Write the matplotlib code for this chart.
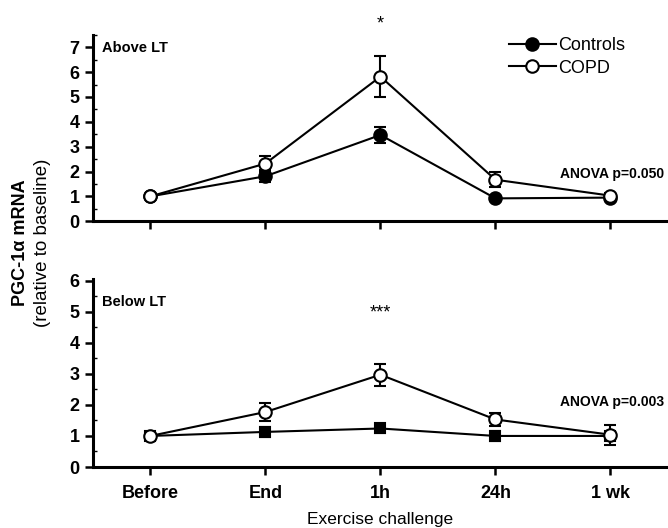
import matplotlib
matplotlib.use("Agg")
import matplotlib.pyplot as plt
from matplotlib.lines import Line2D
from matplotlib.ticker import MultipleLocator

plt.rcParams['font.family'] = ['Liberation Sans', 'DejaVu Sans']

timepoints = ["Before", "End", "1h", "24h", "1 wk"]
x = list(range(len(timepoints)))

# above lactate threshold
above_controls = [1.0, 1.81, 3.47, 0.92, 0.95]
above_controls_err = [0.0, 0.25, 0.33, 0.1, 0.1]
above_copd = [1.0, 2.32, 5.82, 1.67, 1.03]
above_copd_err = [0.0, 0.32, 0.83, 0.3, 0.1]

# below lactate threshold
below_controls = [1.0, 1.13, 1.24, 1.0, 1.0]
below_controls_err = [0.0, 0.15, 0.15, 0.15, 0.05]
below_copd = [1.0, 1.77, 2.97, 1.53, 1.04]
below_copd_err = [0.0, 0.29, 0.35, 0.2, 0.32]

fig = plt.figure(figsize=(6.68, 5.28), dpi=100)
ax1 = fig.add_axes([0.139, 0.581, 0.861, 0.353])
ax2 = fig.add_axes([0.139, 0.1155, 0.861, 0.356])


def draw_panel(ax, ctrl, ctrl_err, copd, copd_err, ctrl_marker, ctrl_ms, ymax):
    ax.errorbar(x[1:], ctrl[1:], yerr=ctrl_err[1:], fmt="none", ecolor="black",
                elinewidth=1.5, capsize=4, capthick=1.5, zorder=2)
    ax.plot(x, ctrl, color="black", lw=1.5, marker=ctrl_marker, ms=ctrl_ms,
            mfc="black", mec="black", mew=1.5, zorder=3)
    ax.errorbar(x[1:], copd[1:], yerr=copd_err[1:], fmt="none", ecolor="black",
                elinewidth=1.5, capsize=4, capthick=1.5, zorder=2)
    ax.plot(x, copd, color="black", lw=1.5, marker="o", ms=9,
            mfc="white", mec="black", mew=1.5, zorder=4)
    ax.set_xlim(-0.5, 4.5)
    ax.set_ylim(0, ymax)
    ax.set_xticks(x)
    ax.yaxis.set_major_locator(MultipleLocator(1))
    ax.yaxis.set_minor_locator(MultipleLocator(0.5))
    for s in ["top", "right"]:
        ax.spines[s].set_visible(False)
    for s in ["left", "bottom"]:
        ax.spines[s].set_linewidth(2.2)
    ax.tick_params(axis="both", which="major", direction="out", length=6, width=1.8,
                   labelsize=13)
    ax.tick_params(axis="y", which="minor", direction="in", length=3, width=1)
    for lab in ax.get_yticklabels():
        lab.set_fontweight("bold")


draw_panel(ax1, above_controls, above_controls_err, above_copd, above_copd_err, "o", 9, 7.5)
draw_panel(ax2, below_controls, below_controls_err, below_copd, below_copd_err, "s", 7.5, 6.05)

ax1.set_xticklabels([])
ax2.set_xticklabels(timepoints, fontweight="bold", fontsize=13)
ax2.tick_params(axis="x", pad=7)
ax2.set_xlabel("Exercise challenge", fontsize=12.5, labelpad=7)

ax1.text(0.016, 0.93, "Above LT", transform=ax1.transAxes, fontsize=10.5, fontweight="bold",
         va="center")
ax2.text(0.016, 0.88, "Below LT", transform=ax2.transAxes, fontsize=10.5, fontweight="bold",
         va="center")

ax1.text(2, 7.95, "*", ha="center", va="center", fontsize=13, clip_on=False)
ax2.text(2, 4.95, "***", ha="center", va="center", fontsize=13)

ax1.text(0.993, 1.9, "ANOVA p=0.050", transform=ax1.get_yaxis_transform(), ha="right",
         va="center", fontsize=10, fontweight="bold")
ax2.text(0.993, 2.1, "ANOVA p=0.003", transform=ax2.get_yaxis_transform(), ha="right",
         va="center", fontsize=10, fontweight="bold")

handles = [
    Line2D([], [], color="black", lw=1.5, marker="o", ms=9, mfc="black", mec="black", mew=1.5),
    Line2D([], [], color="black", lw=1.5, marker="o", ms=9, mfc="white", mec="black", mew=1.5),
]
ax1.legend(handles, ["Controls", "COPD"], loc="upper left", bbox_to_anchor=(0.695, 1.075),
           frameon=False, fontsize=13, handlelength=2.6, handletextpad=0.15,
           labelspacing=0.3)

fig.text(0.03, 0.54, "PGC-1α mRNA", rotation=90, ha="center", va="center",
         fontsize=13, fontweight="bold")
fig.text(0.064, 0.54, "(relative to baseline)", rotation=90, ha="center", va="center",
         fontsize=13.5)

fig.savefig("out.png", dpi=100)
